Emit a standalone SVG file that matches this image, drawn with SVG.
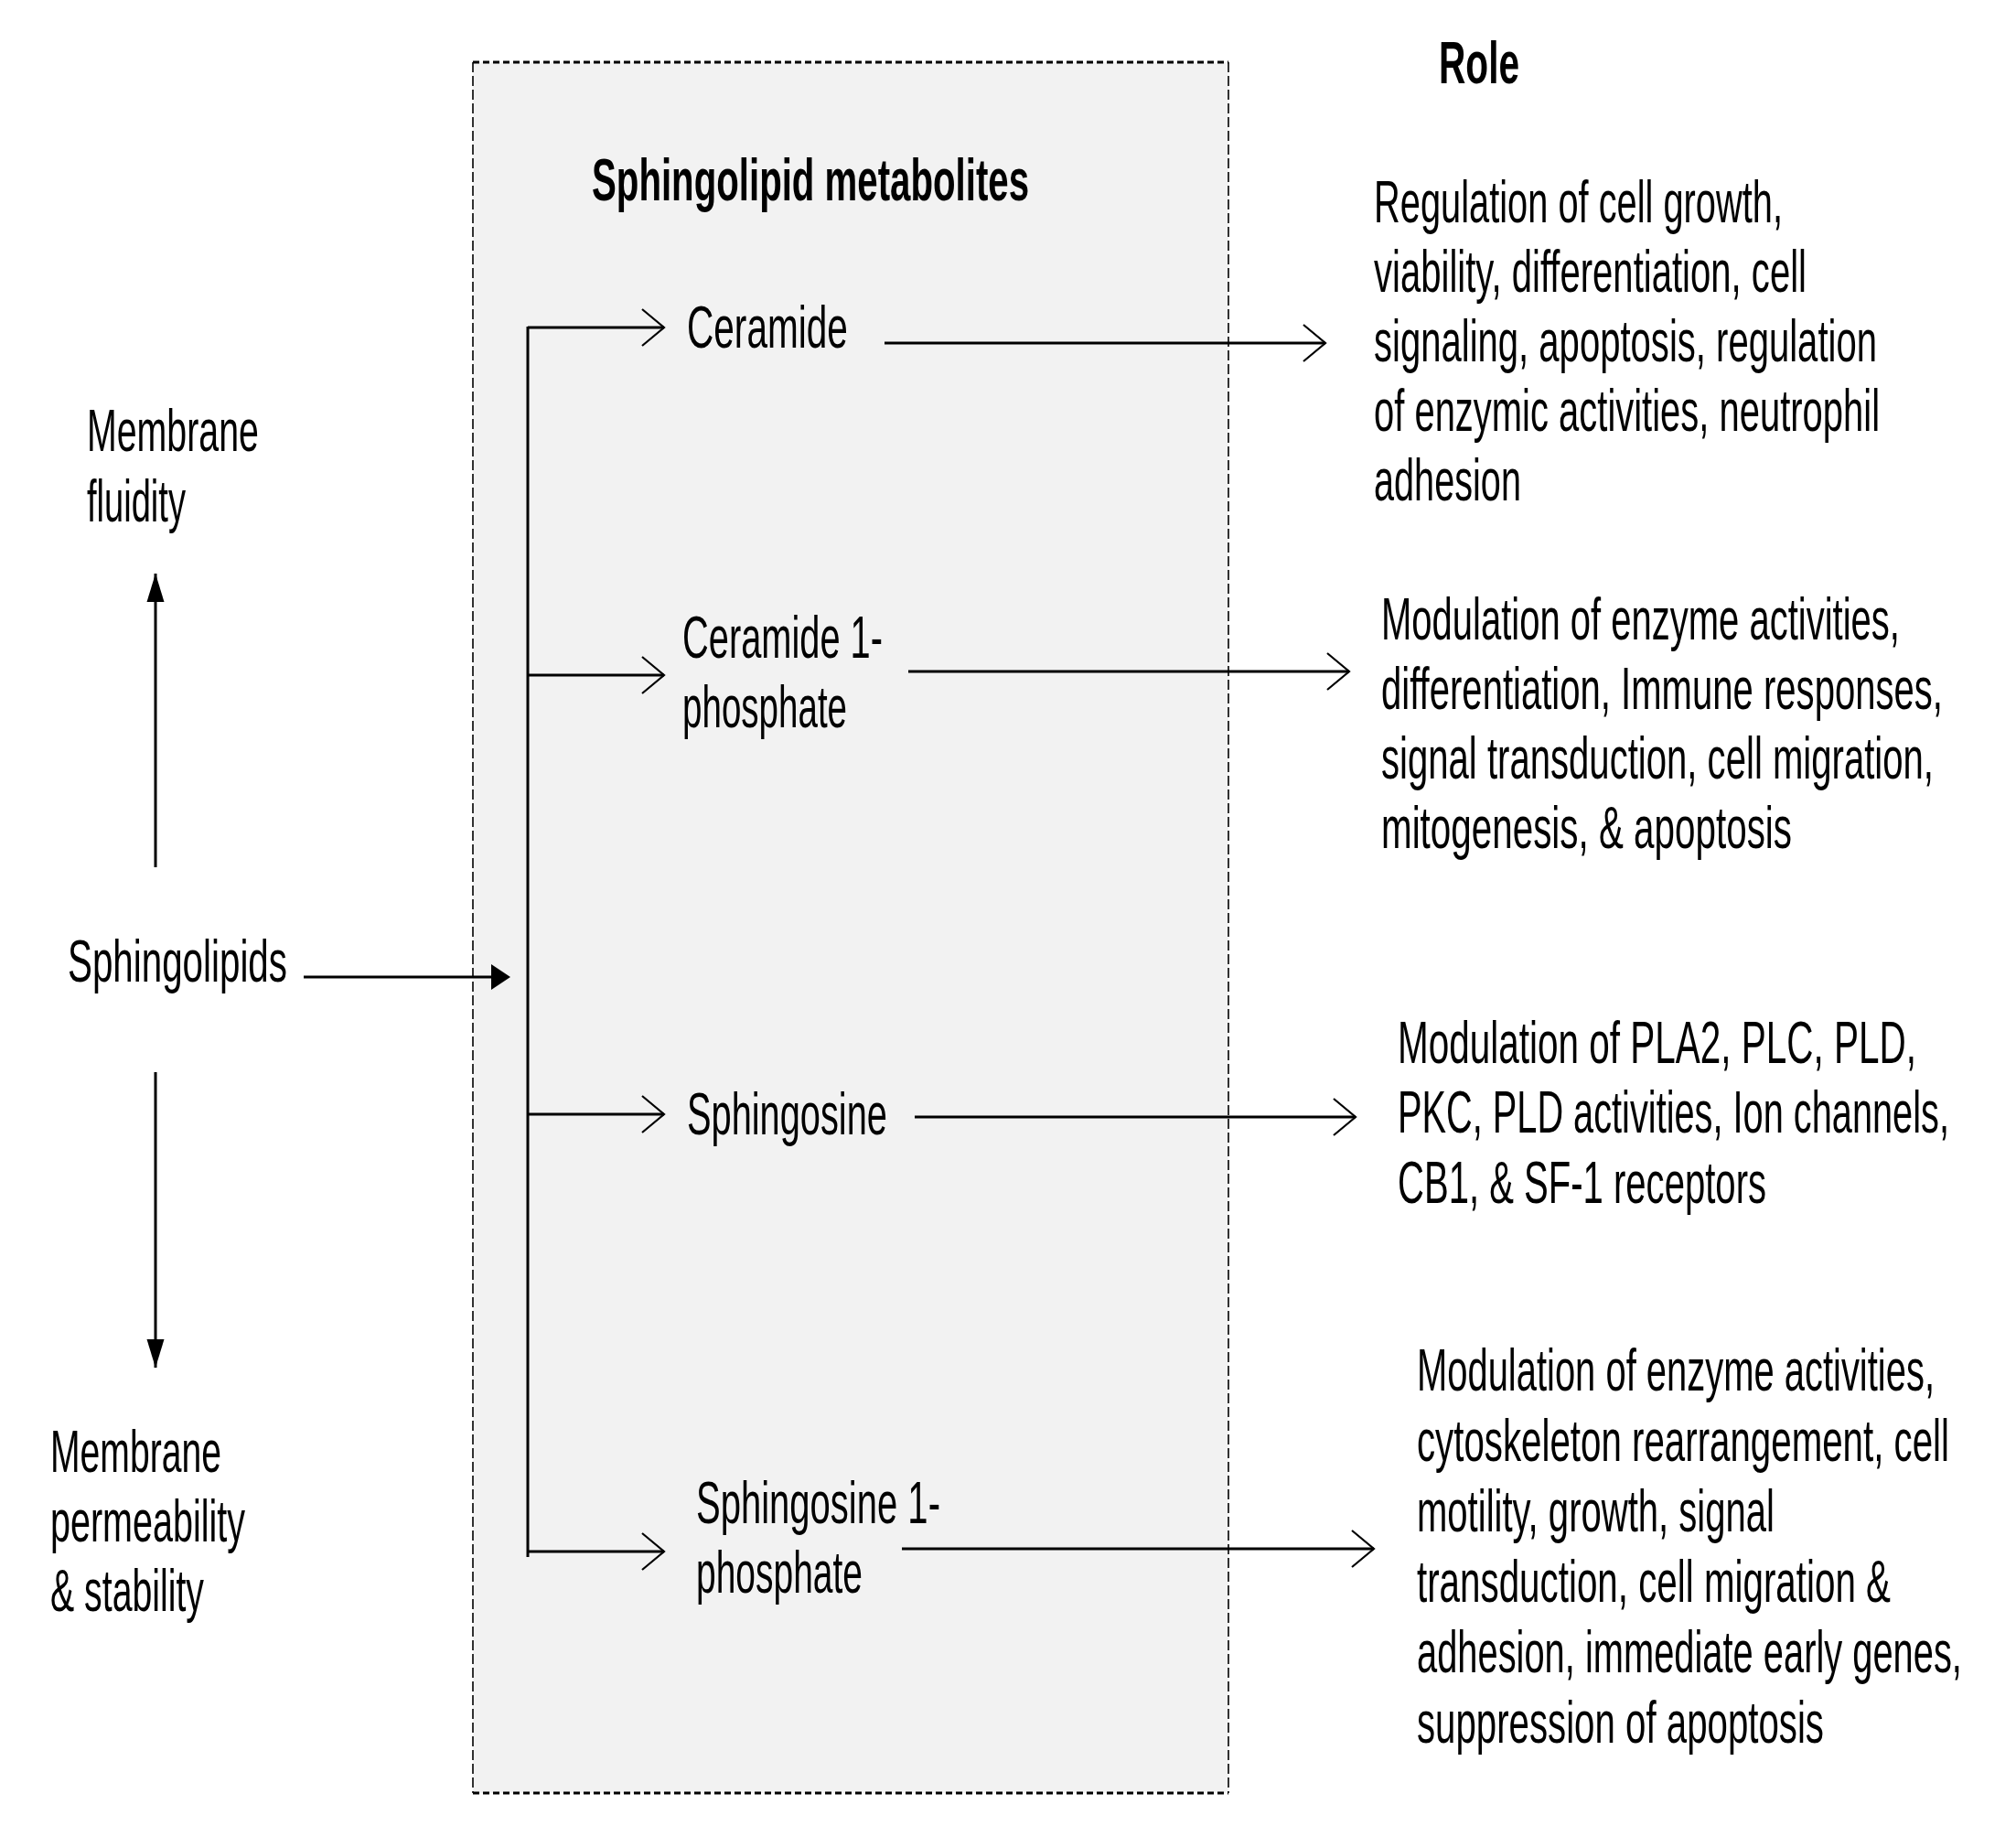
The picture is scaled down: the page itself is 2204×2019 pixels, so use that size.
<svg xmlns="http://www.w3.org/2000/svg" width="2204" height="2019" viewBox="0 0 2204 2019">
<style>
text{font-family:"Liberation Sans",Arial,sans-serif;font-size:65px;fill:#000}
.b{font-weight:bold}
.c{stroke:#000;fill:none;stroke-width:3}
</style>
<defs>
<marker id="chev" markerUnits="userSpaceOnUse" orient="auto" overflow="visible" refX="0" refY="0" markerWidth="30" markerHeight="44"><path d="M-24,-20 L0,0 L-24,20" fill="none" stroke="#000" stroke-width="2.2"/></marker>
<marker id="tri" markerUnits="userSpaceOnUse" orient="auto" overflow="visible" refX="0" refY="0" markerWidth="32" markerHeight="20"><path d="M-31,-9.5 L0,0 L-31,9.5 Z" fill="#000"/></marker>
</defs>
<rect width="2204" height="2019" fill="#fff"/>
<g id="metabolites-box">
<rect x="517" y="68" width="826" height="1892" fill="#f2f2f2"/>
<line x1="517" y1="68" x2="1343" y2="68" stroke="#000" stroke-width="3" stroke-dasharray="7 4"/>
<line x1="517" y1="1960" x2="1343" y2="1960" stroke="#000" stroke-width="3" stroke-dasharray="7 4"/>
<line x1="517" y1="68" x2="517" y2="1960" stroke="#000" stroke-width="1.6" stroke-dasharray="11 4"/>
<line x1="1343" y1="68" x2="1343" y2="1960" stroke="#000" stroke-width="1.6" stroke-dasharray="11 4"/>
<g transform="scale(0.61,1)"><text class="b" x="1060.7" y="219" textLength="783.6" lengthAdjust="spacingAndGlyphs">Sphingolipid metabolites</text></g>
</g>
<g id="role-title" transform="scale(0.61,1)"><text class="b" x="2578.7" y="91" textLength="144.3" lengthAdjust="spacingAndGlyphs">Role</text></g>
<g id="membrane-fluidity" transform="scale(0.61,1)">
<text x="155.7" y="493" textLength="308.2" lengthAdjust="spacingAndGlyphs">Membrane</text>
<text x="155.7" y="570" textLength="177" lengthAdjust="spacingAndGlyphs">fluidity</text>
</g>
<g id="sphingolipids" transform="scale(0.61,1)"><text x="121.3" y="1073" textLength="393.4" lengthAdjust="spacingAndGlyphs">Sphingolipids</text></g>
<g id="membrane-permeability" transform="scale(0.61,1)">
<text x="90.2" y="1609" textLength="306.6" lengthAdjust="spacingAndGlyphs">Membrane</text>
<text x="90.2" y="1685" textLength="349.2" lengthAdjust="spacingAndGlyphs">permeability</text>
<text x="90.2" y="1761" textLength="275.4" lengthAdjust="spacingAndGlyphs">&amp; stability</text>
</g>
<g id="ceramide" transform="scale(0.61,1)"><text x="1231.1" y="380" textLength="288.5" lengthAdjust="spacingAndGlyphs">Ceramide</text></g>
<g id="ceramide-1-phosphate" transform="scale(0.61,1)">
<text x="1223" y="719" textLength="359" lengthAdjust="spacingAndGlyphs">Ceramide 1-</text>
<text x="1223" y="795" textLength="295.1" lengthAdjust="spacingAndGlyphs">phosphate</text>
</g>
<g id="sphingosine" transform="scale(0.61,1)"><text x="1231.1" y="1240" textLength="359" lengthAdjust="spacingAndGlyphs">Sphingosine</text></g>
<g id="sphingosine-1-phosphate" transform="scale(0.61,1)">
<text x="1247.5" y="1665" textLength="437.7" lengthAdjust="spacingAndGlyphs">Sphingosine 1-</text>
<text x="1247.5" y="1741" textLength="298.4" lengthAdjust="spacingAndGlyphs">phosphate</text>
</g>
<g id="role-ceramide" transform="scale(0.61,1)">
<text x="2462.3" y="243" textLength="732.8" lengthAdjust="spacingAndGlyphs">Regulation of cell growth,</text>
<text x="2462.3" y="319" textLength="775.4" lengthAdjust="spacingAndGlyphs">viability, differentiation, cell</text>
<text x="2462.3" y="395" textLength="901.6" lengthAdjust="spacingAndGlyphs">signaling, apoptosis, regulation</text>
<text x="2462.3" y="471" textLength="906.6" lengthAdjust="spacingAndGlyphs">of enzymic activities, neutrophil</text>
<text x="2462.3" y="547" textLength="263.9" lengthAdjust="spacingAndGlyphs">adhesion</text>
</g>
<g id="role-c1p" transform="scale(0.61,1)">
<text x="2475.4" y="699" textLength="929.5" lengthAdjust="spacingAndGlyphs">Modulation of enzyme activities,</text>
<text x="2475.4" y="775" textLength="1006.6" lengthAdjust="spacingAndGlyphs">differentiation, Immune responses,</text>
<text x="2475.4" y="851" textLength="990.2" lengthAdjust="spacingAndGlyphs">signal transduction, cell migration,</text>
<text x="2475.4" y="927" textLength="736.1" lengthAdjust="spacingAndGlyphs">mitogenesis, &amp; apoptosis</text>
</g>
<g id="role-sphingosine" transform="scale(0.61,1)">
<text x="2504.9" y="1162" textLength="929.5" lengthAdjust="spacingAndGlyphs">Modulation of PLA2, PLC, PLD,</text>
<text x="2504.9" y="1238" textLength="988.5" lengthAdjust="spacingAndGlyphs">PKC, PLD activities, Ion channels,</text>
<text x="2504.9" y="1315" textLength="660.7" lengthAdjust="spacingAndGlyphs">CB1, &amp; SF-1 receptors</text>
</g>
<g id="role-s1p" transform="scale(0.61,1)">
<text x="2539.3" y="1520" textLength="927.9" lengthAdjust="spacingAndGlyphs">Modulation of enzyme activities,</text>
<text x="2539.3" y="1597" textLength="954.1" lengthAdjust="spacingAndGlyphs">cytoskeleton rearrangement, cell</text>
<text x="2539.3" y="1674" textLength="641" lengthAdjust="spacingAndGlyphs">motility, growth, signal</text>
<text x="2539.3" y="1751" textLength="849.2" lengthAdjust="spacingAndGlyphs">transduction, cell migration &amp;</text>
<text x="2539.3" y="1828" textLength="977" lengthAdjust="spacingAndGlyphs">adhesion, immediate early genes,</text>
<text x="2539.3" y="1905" textLength="729.5" lengthAdjust="spacingAndGlyphs">suppression of apoptosis</text>
</g>
<g id="connectors">
<line class="c" x1="577" y1="357" x2="577" y2="1702" stroke-width="2.5"/>
<line class="c" x1="577" y1="358" x2="726" y2="358" marker-end="url(#chev)"/>
<line class="c" x1="577" y1="738" x2="726" y2="738" marker-end="url(#chev)"/>
<line class="c" x1="577" y1="1218" x2="726" y2="1218" marker-end="url(#chev)"/>
<line class="c" x1="577" y1="1696" x2="726" y2="1696" marker-end="url(#chev)"/>
<line class="c" x1="967" y1="375" x2="1449" y2="375" marker-end="url(#chev)"/>
<line class="c" x1="993" y1="734" x2="1475" y2="734" marker-end="url(#chev)"/>
<line class="c" x1="1000" y1="1221" x2="1482" y2="1221" marker-end="url(#chev)"/>
<line class="c" x1="986" y1="1693" x2="1502" y2="1693" marker-end="url(#chev)"/>
<line class="c" x1="332" y1="1068" x2="540" y2="1068" stroke-width="4"/>
<polygon points="537,1054 558,1068 537,1082" fill="#000"/>
<line class="c" x1="170" y1="948" x2="170" y2="627" stroke-width="2" marker-end="url(#tri)"/>
<line class="c" x1="170" y1="1172" x2="170" y2="1495" stroke-width="2" marker-end="url(#tri)"/>
</g>
</svg>
